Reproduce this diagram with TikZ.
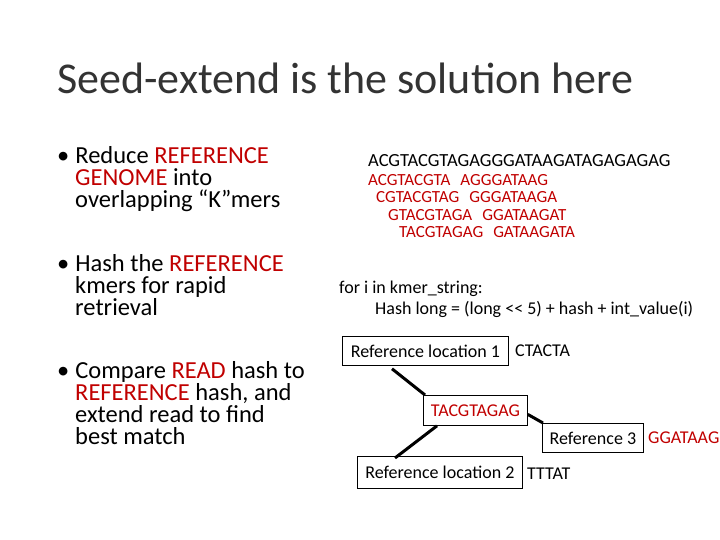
\documentclass[tikz,border=0pt]{standalone}
\usepackage{fontspec}
\setmainfont{Carlito}
\begin{document}
\begin{tikzpicture}[x=1pt,y=-1pt,
 t/.style={anchor=base west,inner sep=0},
 bl/.style={anchor=north west,inner sep=0,align=left,font=\fontsize{24.5}{22}\selectfont},
 b/.style={draw,line width=0.8pt,inner sep=0,anchor=north west},
 c/.style={line width=3pt}]
\definecolor{rd}{RGB}{192,0,0}
\useasboundingbox (0,0) rectangle (720,540);
\node[t,font=\fontsize{44}{44}\selectfont,text=black!80] (title) at (57,94) {Seed-extend is the solution here};
\node[bl] (b1) at (57,146) {•\hspace{6pt}Reduce \textcolor{rd}{REFERENCE}\\\hspace*{18pt}\textcolor{rd}{GENOME} into\\\hspace*{18pt}overlapping “K”mers};
\node[bl] (b2) at (57,254) {•\hspace{6pt}Hash the \textcolor{rd}{REFERENCE}\\\hspace*{18pt}kmers for rapid\\\hspace*{18pt}retrieval};
\node[bl] (b3) at (57,361) {•\hspace{6pt}Compare \textcolor{rd}{READ} hash to\\\hspace*{18pt}\textcolor{rd}{REFERENCE} hash, and\\\hspace*{18pt}extend read to find\\\hspace*{18pt}best match};
\node[t,font=\fontsize{18.5}{18}\selectfont] (s0) at (368,167) {ACGTACGTAGAGGGATAAGATAGAGAGAG};
\node[anchor=north west,inner sep=0,align=left,text=rd,font=\fontsize{17}{17.5}\selectfont] (s) at (368,174)
 {ACGTACGTA\hspace{10pt}AGGGATAAG\\\hspace*{8pt}CGTACGTAG\hspace{10pt}GGGATAAGA\\\hspace*{20pt}GTACGTAGA\hspace{10pt}GGATAAGAT\\\hspace*{31pt}TACGTAGAG\hspace{10pt}GATAAGATA};
\begin{scope}[font=\fontsize{18}{18}\selectfont]
\node[t] (c1) at (339,293) {for i in kmer\_string:};
\node[t] (c2) at (375,314) {Hash long = (long {<}{<} 5) + hash + int\_value(i)};
\node[b,minimum width=166,minimum height=29] (r1) at (342,336) {Reference location 1};
\node[t] (r1s) at (515,356) {CTACTA};
\node[b,minimum width=104,minimum height=30,text=rd] (k) at (423,395) {TACGTAGAG};
\node[b,minimum width=101,minimum height=29] (r3) at (542,423) {Reference 3};
\node[t,text=rd] (r3s) at (648,443) {GGATAAG};
\node[b,minimum width=165,minimum height=32] (r2) at (357,456) {Reference location 2};
\node[t] (r2s) at (527,479) {TTTAT};
\end{scope}
\draw[c] (r1.south west)++(50,3) coordinate(a1) -- ([xshift=2pt]k.north west);
\draw[c] ([xshift=14pt]k.south west) -- ([xshift=38pt,yshift=-2pt]r2.north west);
\draw[c] ([yshift=-4pt]k.east) -- ([xshift=1pt]r3.north west);
\end{tikzpicture}
\end{document}
